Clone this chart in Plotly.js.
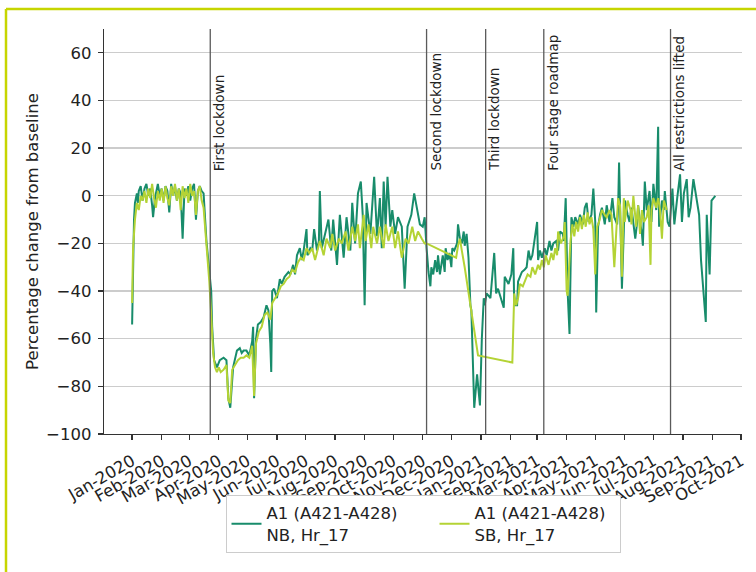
<!DOCTYPE html>
<html><head><meta charset="utf-8">
<script src="https://cdn.plot.ly/plotly-3.0.1.min.js"></script>
<style>html,body{margin:0;padding:0;background:#fff;} #chart{width:756px;height:572px;}</style>
</head><body><div id="chart"></div>
<script>
// day offsets from 2020-01-01
const nbDays = [0,1,2,3,5,6,7,9,11,13,15,17,19,21,22,24,26,27,29,31,33,35,37,39,41,43,45,47,49,51,53,55,57,59,61,63,65,67,69,71,73,75,78,82,83,84,86,89,92,96,99,101,103,106,108,110,113,115,117,120,123,126,127,128,130,132,135,138,141,143,145,146,147,149,152,155,157,160,164,166,169,171,173,176,178,180,183,184,187,189,191,194,196,197,199,202,206,209,211,215,218,222,225,229,231,234,237,240,242,244,246,250,254,257,260,262,264,266,268,271,273,276,279,283,286,289,293,296,299,302,305,307,309,311,313,314,316,318,320,321,323,326,328,329,331,333,335,336,338,341,342,344,346,348,349,351,353,355,356,358,359,362,363,365,367,369,370,372,376,377,380,382,384,387,390,391,395,398,400,401,404,405,409,412,414,416,418,420,422,425,426,428,430,433,435,438,440,442,445,447,449,452,453,455,457,459,461,463,465,468,470,473,475,477,479,482,484,486,487,489,491,493,496,498,501,504,506,509,510,511,514,516,517,520,522,524,526,528,530,531,533,535,536,538,540,543,545,547,550,552,553,556,558,559,562,564,567,569,572,575,577,579,582,584,586,589,591,595,597,600,602,603,606,608,610,612];
const nbValues = [-54,-23,-10,-3,1,-3,2,4,-2,3,5,0,3,-4,-9,-1,4,5,0,3,-2,4,2,-7,5,0,4,-2,3,1,-18,3,0,4,-2,3,5,-10,2,4,2,1,-19,-35,-40,-55,-69,-72,-69,-68,-69,-85,-89,-72,-68,-65,-64,-66,-65,-65,-67,-61,-55,-85,-60,-54,-53,-51,-46,-48,-62,-74,-40,-39,-43,-35,-37,-34,-32,-33,-29,-33,-25,-22,-27,-23,-14,-25,-22,-23,-14,-23,-19,2,-22,-17,-10,-23,-10,-29,-8,-26,-9,-23,-3,-20,1,6,-8,-46,-3,-16,8,-17,-1,-22,6,-13,8,-13,-6,-16,-9,-13,-39,-13,-8,1,-6,-12,-13,-9,-22,-32,-38,-30,-33,-27,-32,-25,-33,-25,-32,-22,-27,-24,-30,-22,-23,-20,-12,-18,-20,-15,-21,-16,-26,-46,-48,-79,-89,-75,-79,-88,-60,-43,-46,-41,-43,-39,-24,-41,-39,-43,-47,-34,-37,-33,-22,-46,-46,-36,-32,-31,-30,-23,-27,-25,-19,-11,-27,-23,-26,-22,-25,-19,-23,-20,-19,-23,-15,-16,-19,-1,-40,-58,-9,-13,-9,-12,-8,-12,-5,-3,-11,-8,3,-11,-49,-13,-8,-5,-12,-4,-11,-1,-9,-12,-5,14,-39,-6,-2,-8,-11,-5,-13,-18,-11,-4,-11,-16,-21,6,-6,2,-11,5,-6,29,-13,-2,-6,2,-11,-13,3,-12,-1,9,-11,1,7,-9,-5,7,2,-8,-27,-43,-53,-8,-33,-2,-1,0];
const sbDays = [0,1,3,5,7,9,11,13,15,17,19,21,23,25,27,29,31,33,35,37,39,41,43,45,47,49,51,53,55,57,59,61,63,65,67,69,71,73,75,77,79,81,83,85,87,89,91,93,96,99,101,103,105,108,111,114,117,120,123,126,128,130,133,136,139,142,145,147,150,153,156,159,162,165,168,171,174,177,180,183,186,189,192,195,197,201,204,208,210,213,217,220,224,227,231,234,237,239,243,245,248,251,253,257,260,264,266,269,273,276,279,283,287,290,294,297,300,304,307,309,340,342,344,346,348,349,363,399,401,403,405,407,410,412,415,418,420,423,426,428,430,432,434,437,440,442,444,446,447,450,453,454,456,457,460,462,464,466,468,470,472,474,476,478,480,482,484,486,488,490,493,496,498,501,503,506,509,510,512,514,516,517,520,523,524,526,529,531,533,535,537,540,542,544,545,547,550,552,554,556,558,561];
const sbValues = [-45,-22,-10,-3,-6,0,-2,2,-3,3,-1,5,-1,-5,2,-2,3,-3,4,-1,-4,4,0,5,-2,3,-6,4,-1,3,-3,5,0,2,-8,2,4,-2,-5,-15,-25,-36,-50,-66,-72,-74,-72,-74,-73,-71,-86,-87,-73,-71,-69,-68,-68,-67,-68,-63,-84,-62,-57,-55,-50,-49,-52,-45,-43,-41,-38,-37,-35,-34,-31,-32,-28,-26,-27,-22,-24,-22,-27,-22,-19,-25,-18,-22,-16,-23,-18,-20,-15,-23,-13,-19,-12,-22,-8,-19,-12,-22,-13,-20,-13,-22,-12,-19,-13,-22,-15,-26,-18,-20,-13,-19,-15,-18,-20,-20,-26,-21,-18,-23,-29,-30,-67,-70,-41,-46,-43,-37,-38,-36,-33,-34,-30,-33,-29,-31,-27,-30,-25,-29,-24,-27,-22,-25,-15,-20,-17,-11,-40,-42,-19,-12,-17,-11,-15,-9,-14,-8,-13,-7,-12,-9,-14,-33,-13,-11,-6,-8,-9,-6,-8,-30,-5,-1,-4,-34,-1,-11,-2,-6,-12,0,-13,-4,-16,-6,-11,-9,-4,-29,-6,-1,-5,-1,-6,-18,-2,-6];
const seriesNames = ['A1 (A421-A428)<br>NB, Hr_17', 'A1 (A421-A428)<br>SB, Hr_17'];
const eventDates = ['2020-03-23','2020-11-05','2021-01-06','2021-03-08','2021-07-19'];
const eventLabels = ['First lockdown','Second lockdown','Third lockdown','Four stage roadmap','All restrictions lifted'];
const monthTickDates = ['2020-01-01','2020-02-01','2020-03-01','2020-04-01','2020-05-01','2020-06-01','2020-07-01','2020-08-01','2020-09-01','2020-10-01','2020-11-01','2020-12-01','2021-01-01','2021-02-01','2021-03-01','2021-04-01','2021-05-01','2021-06-01','2021-07-01','2021-08-01','2021-09-01','2021-10-01'];
const monthTickLabels = ['Jan-2020','Feb-2020','Mar-2020','Apr-2020','May-2020','Jun-2020','Jul-2020','Aug-2020','Sep-2020','Oct-2020','Nov-2020','Dec-2020','Jan-2021','Feb-2021','Mar-2021','Apr-2021','May-2021','Jun-2021','Jul-2021','Aug-2021','Sep-2021','Oct-2021'];
const yTicks = [-100,-80,-60,-40,-20,0,20,40,60];

function dayToDate(d){ return new Date(Date.UTC(2020,0,1) + d*86400000).toISOString().slice(0,10); }

const FONT = 'DejaVu Sans, sans-serif';
const FS = 16.5;
const traces = [
  {x: nbDays.map(dayToDate), y: nbValues, type:'scatter', mode:'lines', name: seriesNames[0],
   line:{color:'#188c6b', width:2}, hoverinfo:'skip', legendwidth:163},
  {x: sbDays.map(dayToDate), y: sbValues, type:'scatter', mode:'lines', name: seriesNames[1],
   line:{color:'#b4d335', width:2}, hoverinfo:'skip', legendwidth:140}
];

const shapes = eventDates.map(d => ({type:'line', xref:'x', yref:'paper', x0:d, x1:d, y0:0, y1:1,
  line:{color:'#5a5a5a', width:1.3}}));
// frame decoration (top and left border)
shapes.push({type:'line', xref:'paper', yref:'paper', x0:(6-104)/638, x1:(760-104)/638, y0:(434-9)/405, y1:(434-9)/405, line:{color:'#c6d500', width:2.5}});
shapes.push({type:'line', xref:'paper', yref:'paper', x0:(6-104)/638, x1:(6-104)/638, y0:(434-9)/405, y1:(434-580)/405, line:{color:'#c6d500', width:2.5}});

const annotations = eventDates.map((d,i) => ({x:d, y:10, xref:'x', yref:'y', text:eventLabels[i], textangle:-90,
  showarrow:false, xanchor:'left', yanchor:'bottom', xshift:0, borderpad:0, font:{family:FONT, size:13.5, color:'#222'}}));

const layout = {
  width:756, height:572,
  margin:{l:104, r:14, t:29, b:138},
  paper_bgcolor:'#fff', plot_bgcolor:'#fff',
  font:{family:FONT, size:FS, color:'#222'},
  showlegend:true,
  legend:{orientation:'h', x:0.5, xanchor:'center', y:-0.15, yanchor:'top',
    bgcolor:'#fff', bordercolor:'#cccccc', borderwidth:1, font:{family:FONT, size:FS, color:'#222'},
    traceorder:'normal'},
  xaxis:{type:'date', range:['2019-12-02 12:00','2021-10-02'], tickvals:monthTickDates, ticktext:monthTickLabels,
    tickangle:-30, ticks:'outside', ticklen:5, tickwidth:1.3, tickcolor:'#333', showgrid:false, zeroline:false,
    ticklabelstandoff:5,
    showline:true, linecolor:'#333', linewidth:1.3, tickfont:{family:FONT, size:FS, color:'#222'}},
  yaxis:{range:[-100,70], tickvals:yTicks, ticks:'outside', ticklen:5, tickwidth:1.3, tickcolor:'#333',
    ticklabelstandoff:3,
    showgrid:true, gridcolor:'#cccccc', gridwidth:1.3, zeroline:false, showline:true, linecolor:'#333', linewidth:1.3,
    tickfont:{family:FONT, size:FS, color:'#222'},
    title:{text:'Percentage change from baseline', font:{family:FONT, size:FS, color:'#222'}, standoff:3}},
  shapes: shapes,
  annotations: annotations
};
Plotly.newPlot('chart', traces, layout, {displayModeBar:false, staticPlot:true});
</script>
</body></html>
